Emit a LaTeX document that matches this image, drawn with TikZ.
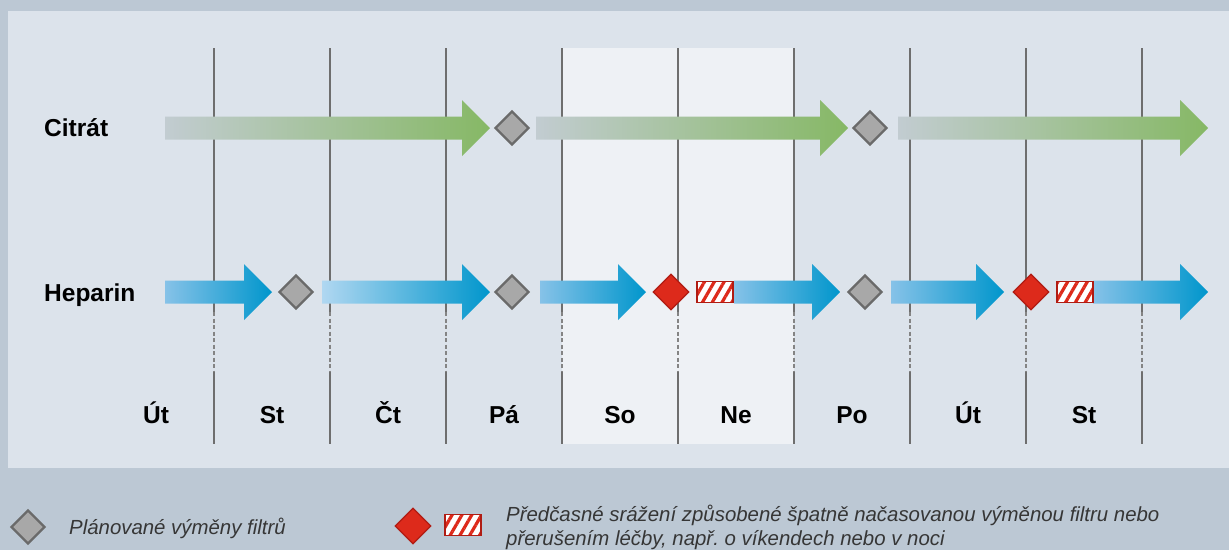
\documentclass[tikz,border=0pt]{standalone}
\usepackage{fontspec}
\setmainfont{Liberation Sans}
\usetikzlibrary{shapes.geometric, patterns.meta, positioning}
\frenchspacing

\definecolor{outerbg}{HTML}{BCC8D4}
\definecolor{panelbg}{HTML}{DCE3EB}
\definecolor{weekendbg}{HTML}{EEF1F5}
\definecolor{gridgray}{HTML}{6E6E6E}
\definecolor{citstart}{HTML}{C2CCD1}
\definecolor{citend}{HTML}{86B865}
\definecolor{hepstart}{HTML}{86C2E8}
\definecolor{heppale}{HTML}{B0D7F1}
\definecolor{hepmid}{HTML}{3FA9DC}
\definecolor{hepend}{HTML}{0096CC}
\definecolor{swapfill}{HTML}{A8A8A8}
\definecolor{swapdraw}{HTML}{6A6A6A}
\definecolor{clotfill}{HTML}{DD2A1B}
\definecolor{clotdraw}{HTML}{B01C13}
\definecolor{legendtext}{HTML}{363636}

% shaded therapy arrow: start x, tip x, centre y, left colour, right colour
\newcommand{\therapyarrow}[5]{%
  \shade[left color=#4, right color=#5]
  (#1,#3-11.5) -- (#2-28,#3-11.5) -- (#2-28,#3-28) -- (#2,#3)
  -- (#2-28,#3+28) -- (#2-28,#3+11.5) -- (#1,#3+11.5) -- cycle;}

\begin{document}
\begin{tikzpicture}[
		x=1pt, y=-1pt,
		rowlabel/.style={font=\fontsize{24.5}{24.5}\selectfont\bfseries, anchor=base west, inner sep=0pt},
		daylabel/.style={font=\fontsize{24.5}{24.5}\selectfont\bfseries, anchor=base, inner sep=0pt},
		swap/.style={diamond, draw=swapdraw, fill=swapfill, line width=2.4pt, inner sep=0pt, minimum width=34, minimum height=34},
		clot/.style={diamond, draw=clotdraw, fill=clotfill, line width=1.2pt, inner sep=0pt, minimum width=36, minimum height=36},
		pause/.style={rectangle, draw=clotdraw, line width=1.6pt, inner sep=0pt, minimum width=36, minimum height=21,
			preaction={fill=white}, pattern={Lines[angle=60,distance=8.5pt,line width=3.2pt]}, pattern color=clotfill},
		legend/.style={font=\fontsize{20.4}{24}\selectfont\itshape, text=legendtext, anchor=base west, inner sep=0pt}
		]
		
		% ==========================================
		% BACKGROUND
		% ==========================================
		\fill[outerbg] (0,0) rectangle (1229,550);
		\fill[panelbg] (8,11) rectangle (1229,468);
		\fill[weekendbg] (562,48) rectangle (794,444);
		
		% ==========================================
		% DAY GRID
		% ==========================================
		\foreach \x in {214,330,...,1142} {
			\draw[gridgray, line width=1.3pt] (\x,48) -- (\x,312);
			\draw[gridgray!85, line width=1.1pt, dash pattern=on 4pt off 2.5pt] (\x,312) -- (\x,372);
			\draw[gridgray, line width=1.3pt] (\x,372) -- (\x,444);
		}
		\foreach \day [count=\i from 0] in {Út,St,Čt,Pá,So,Ne,Po,Út,St}
			\node[daylabel] (day\i) at (156+116*\i,423) {\day};
		
		% ==========================================
		% CITRATE ROW
		% ==========================================
		\node[rowlabel] (citrate) at (44,136) {Citrát};
		\therapyarrow{165}{490}{128}{citstart}{citend}
		\node[swap] (citswap1) at (512,128) {};
		\therapyarrow{536}{848}{128}{citstart}{citend}
		\node[swap] (citswap2) at (870,128) {};
		\therapyarrow{898}{1208}{128}{citstart}{citend}
		
		% ==========================================
		% HEPARIN ROW
		% ==========================================
		\node[rowlabel] (heparin) at (44,301) {Heparin};
		\therapyarrow{165}{272}{292}{hepstart}{hepend}
		\node[swap] (hepswap1) at (296,292) {};
		\therapyarrow{322}{490}{292}{heppale}{hepend}
		\node[swap] (hepswap2) at (512,292) {};
		\therapyarrow{540}{646}{292}{hepstart}{hepend}
		\node[clot] (hepclot1) at (671,292) {};
		\therapyarrow{734}{840}{292}{hepstart}{hepend}
		\node[pause] (hepstop1) at (715,292) {};
		\node[swap] (hepswap3) at (865,292) {};
		\therapyarrow{891}{1004}{292}{hepstart}{hepend}
		\node[clot] (hepclot2) at (1031,292) {};
		\therapyarrow{1093}{1208}{292}{hepstart}{hepend}
		\node[pause] (hepstop2) at (1075,292) {};
		
		% ==========================================
		% LEGEND
		% ==========================================
		\node[swap] (keyswap) at (28,527) {};
		\node[legend] (keyswaptext) at (69,534) {Plánované výměny filtrů};
		\node[clot] (keyclot) at (413,526) {};
		\node[pause] (keystop) at (463,525) {};
		\node[legend] (keyclottext) at (506,521) {Předčasné srážení způsobené špatně načasovanou výměnou filtru nebo};
		\node[legend] (keyclotmore) at (506,545) {přerušením léčby, např. o víkendech nebo v noci};
		
	\end{tikzpicture}
\end{document}
